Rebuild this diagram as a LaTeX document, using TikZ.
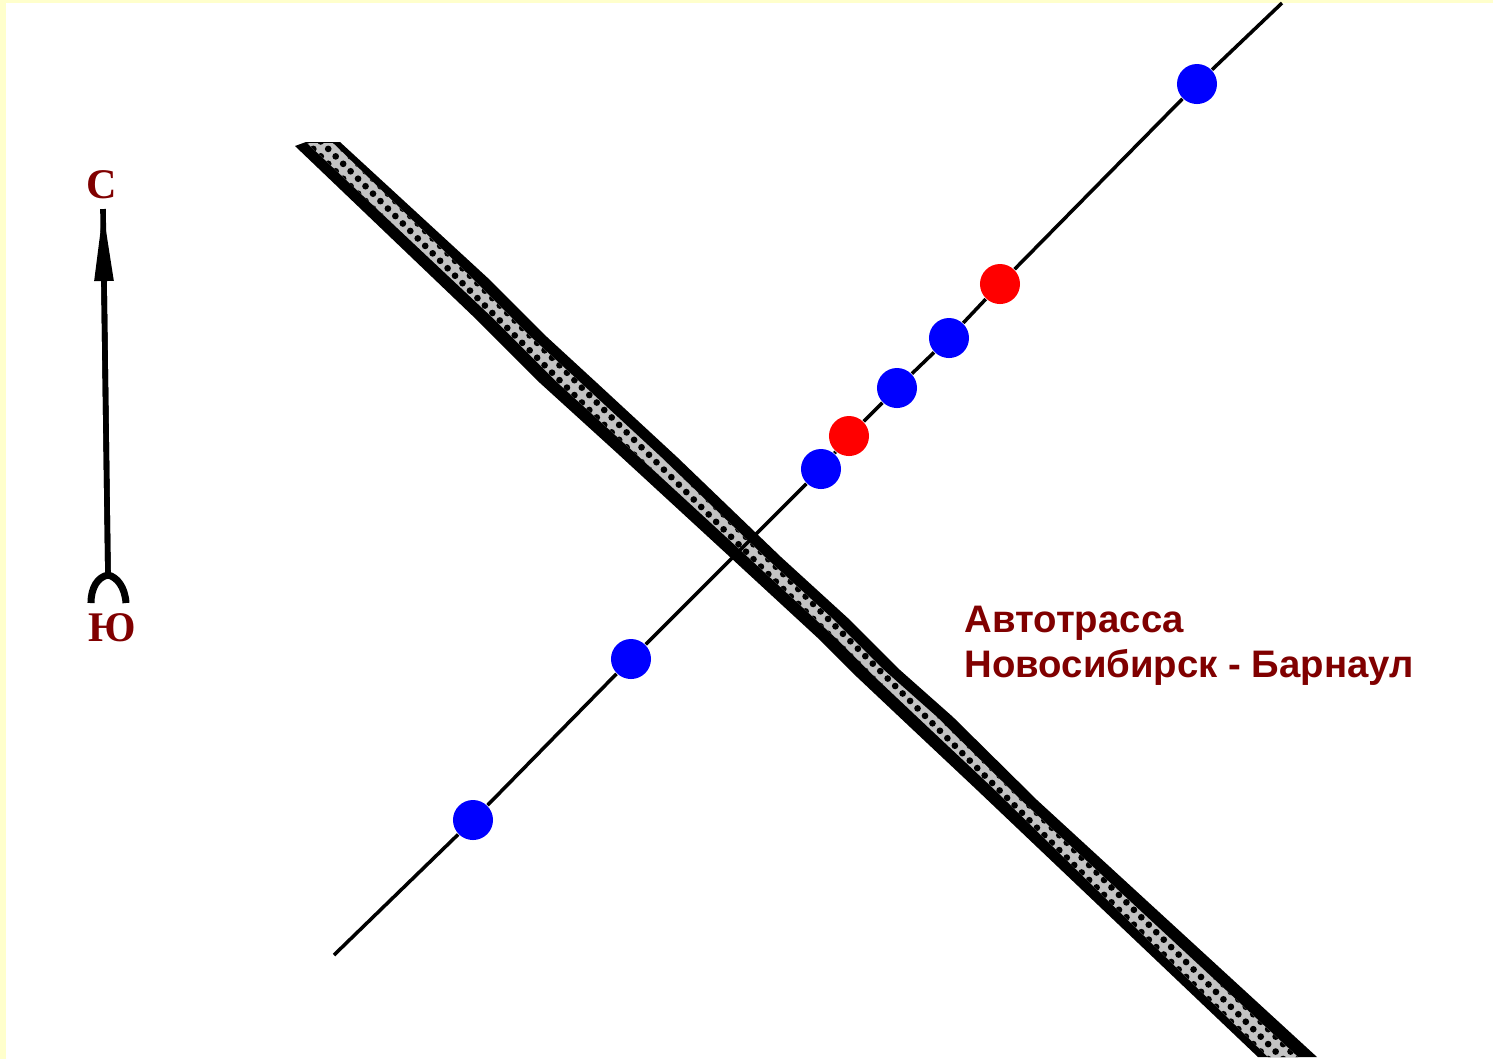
\documentclass[tikz,border=0pt]{standalone}
\usepackage{fontspec}
\setmainfont{Liberation Sans}
\newfontfamily\compassfont{Liberation Serif}
\usetikzlibrary{arrows.meta,patterns.meta}
\definecolor{pagebg}{RGB}{255,255,204}
\definecolor{labelred}{RGB}{128,0,0}
\definecolor{bandgray}{RGB}{195,195,195}
\definecolor{stopblue}{RGB}{0,0,255}
\definecolor{stopred}{RGB}{255,0,0}
\tikzset{
    stopdot/.style={circle, fill=#1, draw=none, minimum size=0.4cm, inner sep=0pt},
    roadlabel/.style={text=labelred, font=\fontsize{10.9}{12.8}\selectfont\bfseries, align=left, inner sep=0pt},
    compasslabel/.style={text=labelred, font=\fontsize{12}{14}\selectfont\compassfont\bfseries, inner sep=0pt}
}
\begin{document}
\begin{tikzpicture}[x=0.01cm, y=-0.01cm]

% Background
\useasboundingbox (0,0) rectangle (1493,1059);
\fill[pagebg] (0,0) rectangle (1493,1059);
\fill[white] (5.5,3) rectangle (1493,1059);

% Highway band
\fill[black] (295,146) -- (306,142) -- (340,142) -- (490,280) -- (547,337) -- (597,383) -- (677,457) -- (781,557) -- (850,620) -- (900,670) -- (953,717) -- (1037,800) -- (1317,1057)
    -- (1258,1057) -- (977,790) -- (910,727) -- (857,677) -- (820,640) -- (730,557) -- (617,453) -- (540,383) -- (477,320) -- cycle;
\fill[bandgray] (307,143) -- (333,143) -- (474,280) -- (531,337) -- (581,383) -- (661,457) -- (765,557) -- (834,620) -- (884,670) -- (937,717) -- (1021,800) -- (1298,1057)
    -- (1268,1057) -- (995,790) -- (928,727) -- (875,677) -- (838,640) -- (748,557) -- (635,453) -- (558,383) -- (495,320) -- cycle;
\fill[pattern={Dots[distance=3pt, radius=0.95pt, angle=45]}, pattern color=black]
    (307,143) -- (333,143) -- (474,280) -- (531,337) -- (581,383) -- (661,457) -- (765,557) -- (834,620) -- (884,670) -- (937,717) -- (1021,800) -- (1298,1057)
    -- (1268,1057) -- (995,790) -- (928,727) -- (875,677) -- (838,640) -- (748,557) -- (635,453) -- (558,383) -- (495,320) -- cycle;

% Stops
\node[stopdot=stopblue] (STOP_A) at (473,820) {};
\node[stopdot=stopblue] (STOP_B) at (631,659) {};
\node[stopdot=stopblue] (STOP_C) at (821,469) {};
\node[stopdot=stopred] (STOP_D) at (849,436) {};
\node[stopdot=stopblue] (STOP_E) at (897,388) {};
\node[stopdot=stopblue] (STOP_F) at (949,338) {};
\node[stopdot=stopred] (STOP_G) at (1000,284) {};
\node[stopdot=stopblue] (STOP_H) at (1197,84) {};

% Route line
\coordinate (LINE_S) at (334,955);
\coordinate (LINE_N) at (1282,3);
\draw[black, line width=1pt] (LINE_S) -- (STOP_A) -- (STOP_B) -- (STOP_C) -- (STOP_D) -- (STOP_E) -- (STOP_F) -- (STOP_G) -- (STOP_H) -- (LINE_N);

% Compass
\node[compasslabel] (NORTH) at (102,185) {С};
\node[compasslabel] (SOUTH) at (112,628) {Ю};
\coordinate (FORK) at (108,575);
\coordinate (TIP) at (103,209);
\draw[black, line width=1.6pt] (FORK) -- (TIP);
\draw[black, line width=1.6pt, -{Triangle[length=0.72cm, width=0.18cm]}] (FORK) -- (TIP);
\draw[black, line width=2pt] (91,603) .. controls (91,587) and (98,577) .. (FORK)
    .. controls (117,577) and (125,587) .. (126,603);

% Road label
\node[roadlabel, anchor=base west] (ROAD) at (964,677) {Автотрасса\\Новосибирск - Барнаул};

\end{tikzpicture}
\end{document}
